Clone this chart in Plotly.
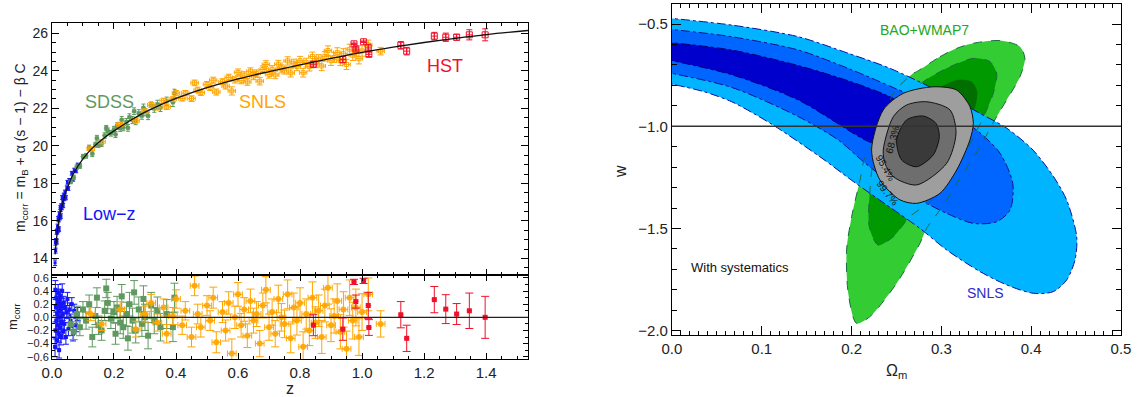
import plotly.graph_objects as go

# ---------------- Left panel data (Hubble diagram) ----------------
lowz_z = [0.010,0.011,0.012,0.013,0.014,0.015,0.016,0.017,0.018,0.019,0.020,0.021,0.022,0.023,0.024,0.025,0.026,0.027,0.028,0.029,0.030,0.032,0.033,0.035,0.036,0.038,0.040,0.042,0.045,0.048,0.050,0.053,0.056,0.060,0.064,0.068,0.072,0.078,0.083]
lowz_m = [13.77,14.85,14.42,14.94,14.91,15.41,14.90,15.43,15.71,15.51,16.12,15.60,16.05,15.55,16.39,16.23,16.17,16.72,16.60,16.26,16.82,16.70,17.25,17.03,16.82,17.38,17.18,17.54,17.24,17.77,18.06,17.73,18.16,18.14,18.54,18.23,18.71,18.67,18.98]
lowz_res = [-0.45,0.42,-0.20,0.15,-0.05,0.30,-0.35,0.05,0.20,-0.12,0.38,-0.25,0.10,-0.50,0.25,0.00,-0.15,0.32,0.12,-0.30,0.18,-0.08,0.40,0.05,-0.22,0.22,-0.10,0.15,-0.30,0.08,0.28,-0.18,0.12,-0.05,0.20,-0.25,0.10,-0.12,0.05]
lowz_err = [0.15,0.14,0.13,0.12,0.13,0.12,0.13,0.11,0.12,0.11,0.12,0.11,0.10,0.12,0.10,0.10,0.11,0.11,0.10,0.12,0.10,0.10,0.11,0.10,0.11,0.10,0.10,0.10,0.11,0.10,0.10,0.10,0.10,0.10,0.10,0.11,0.10,0.10,0.10]

sdss_z = [0.06,0.07,0.08,0.09,0.10,0.11,0.12,0.13,0.14,0.145,0.15,0.16,0.17,0.175,0.18,0.19,0.20,0.205,0.21,0.22,0.225,0.23,0.24,0.245,0.25,0.26,0.265,0.27,0.28,0.29,0.295,0.30,0.31,0.32,0.33,0.34,0.35,0.37,0.39,0.395]
sdss_m = [18.08,18.32,18.87,18.93,19.43,19.47,19.90,19.58,20.06,20.41,20.06,20.12,20.55,20.95,20.79,20.67,20.88,20.61,21.06,20.94,21.39,20.98,21.28,20.96,21.53,21.38,21.85,21.32,21.74,21.61,22.03,21.80,21.60,22.14,21.99,22.22,22.04,22.38,22.32,22.80]
sdss_res = [-0.10,-0.22,0.05,-0.15,0.12,-0.05,0.20,-0.30,0.02,0.30,-0.12,-0.20,0.10,0.44,0.22,-0.02,0.08,-0.25,0.15,-0.08,0.32,-0.15,0.05,-0.32,0.20,-0.05,0.38,-0.20,0.12,-0.10,0.28,0.00,-0.28,0.18,-0.05,0.10,-0.15,0.05,-0.15,0.30]
sdss_err = [0.10,0.12,0.12,0.13,0.12,0.13,0.14,0.15,0.13,0.15,0.14,0.15,0.15,0.14,0.16,0.15,0.16,0.16,0.17,0.17,0.18,0.17,0.18,0.18,0.18,0.19,0.18,0.19,0.19,0.19,0.20,0.20,0.20,0.20,0.20,0.21,0.21,0.22,0.22,0.22]

snls_z = [0.125,0.16,0.22,0.27,0.30,0.32,0.34,0.36,0.37,0.39,0.40,0.42,0.43,0.45,0.46,0.47,0.48,0.50,0.51,0.52,0.53,0.55,0.56,0.57,0.58,
          0.59,0.60,0.61,0.62,0.63,0.64,0.65,0.66,0.67,0.68,0.69,0.70,0.71,0.72,0.73,0.74,0.75,0.76,0.77,0.78,0.79,0.80,0.81,0.82,0.83,
          0.84,0.85,0.86,0.87,0.88,0.89,0.90,0.91,0.92,0.93,0.94,0.95,0.96,0.97,0.98,0.99,1.00,1.02,1.06]
snls_m = [19.84,20.22,21.14,21.34,21.85,22.18,22.04,22.41,22.08,22.49,22.81,22.53,22.81,22.52,23.36,22.98,22.84,23.28,23.10,23.50,22.87,23.42,23.19,23.65,22.93,
          23.52,23.92,23.49,23.77,23.41,23.98,23.72,23.86,23.45,24.07,24.34,23.81,24.08,23.78,24.35,24.10,24.04,24.53,23.89,24.40,24.23,24.54,23.90,24.44,24.22,
          24.76,24.41,24.62,24.26,24.77,25.08,24.54,24.71,24.97,24.54,24.91,24.34,25.15,24.83,25.07,24.65,25.06,25.39,25.05]
snls_res = [0.05,-0.10,0.12,-0.18,0.05,0.22,-0.08,0.15,-0.25,0.02,0.28,-0.12,0.10,-0.30,0.48,0.05,-0.15,0.18,-0.05,0.30,-0.38,0.08,-0.20,0.22,-0.55,
            0.00,0.35,-0.12,0.12,-0.28,0.25,-0.05,0.05,-0.40,0.18,0.42,-0.15,0.08,-0.25,0.28,0.00,-0.10,0.35,-0.32,0.15,-0.05,0.22,-0.45,0.05,-0.20,
            0.30,-0.08,0.10,-0.30,0.18,0.45,-0.12,0.02,0.25,-0.22,0.12,-0.48,0.30,-0.05,0.15,-0.30,0.08,0.35,-0.10]
snls_err = [0.10,0.10,0.12,0.12,0.12,0.13,0.13,0.13,0.14,0.13,0.14,0.14,0.14,0.15,0.15,0.15,0.15,0.15,0.15,0.16,0.16,0.16,0.16,0.17,0.22,
            0.17,0.18,0.18,0.18,0.18,0.18,0.19,0.19,0.20,0.19,0.20,0.20,0.20,0.20,0.21,0.21,0.21,0.22,0.22,0.22,0.22,0.23,0.23,0.23,0.23,
            0.24,0.24,0.24,0.25,0.25,0.25,0.25,0.26,0.26,0.26,0.27,0.27,0.27,0.28,0.28,0.28,0.28,0.25,0.20]

hst_z = [0.843,0.938,0.974,0.980,1.005,1.020,1.022,1.125,1.144,1.233,1.270,1.305,1.346,1.397]
hst_m = [24.35,24.60,25.44,25.16,25.55,25.22,24.88,25.36,25.05,25.85,25.79,25.79,25.92,25.92]
hst_res = [-0.12,-0.18,0.54,0.24,0.555,0.18,-0.155,0.04,-0.32,0.27,0.125,0.05,0.10,0.00]
hst_err = [0.16,0.17,0.04,0.10,0.04,0.20,0.12,0.20,0.20,0.20,0.22,0.16,0.27,0.32]

# best-fit curve
curve_z = [0.01,0.015,0.02,0.03,0.04,0.05,0.07,0.1,0.13,0.17,0.2,0.25,0.3,0.35,0.4,0.5,0.6,0.7,0.8,0.9,1.0,1.1,1.2,1.3,1.4,1.535]
curve_m = [14.22,15.11,15.74,16.64,17.28,17.78,18.54,19.31,19.88,20.45,20.8,21.33,21.8,22.19,22.53,23.1,23.57,23.96,24.32,24.66,24.98,25.26,25.51,25.73,25.93,26.15]

resid_ref = 0.0

# ---------------- Right panel data (confidence contours) ----------------
snls99_om = [-0.01,0.0665,0.1407,0.1963,0.243,0.298,0.343,0.373,0.402,0.425,0.4395,0.4507,0.4488,0.4395,0.4246,0.4023,0.3727,0.343,0.3059,0.2762,0.2391,0.2019,0.165,0.1147,0.09,0.0665,0.035,-0.01]
snls99_w = [-0.468,-0.505,-0.562,-0.643,-0.717,-0.831,-0.937,-1.01,-1.116,-1.247,-1.361,-1.54,-1.654,-1.752,-1.809,-1.817,-1.776,-1.711,-1.605,-1.50,-1.385,-1.27,-1.15,-1.0,-0.935,-0.88,-0.83,-0.785]
snls95_om = [-0.01,0.0665,0.1407,0.1963,0.2483,0.30,0.339,0.3653,0.3795,0.3764,0.3616,0.3356,0.3059,0.2762,0.2502,0.215,0.1852,0.1407,0.0665,-0.01]
snls95_w = [-0.522,-0.562,-0.627,-0.717,-0.814,-0.915,-1.018,-1.132,-1.28,-1.41,-1.467,-1.475,-1.426,-1.36,-1.296,-1.18,-1.067,-0.953,-0.81,-0.733]
snls68_om = [-0.01,0.0665,0.1407,0.198,0.24,0.27,0.295,0.305,0.295,0.27,0.245,0.215,0.1407,0.0665,-0.01]
snls68_w = [-0.587,-0.627,-0.703,-0.78,-0.85,-0.92,-1.0,-1.08,-1.15,-1.16,-1.12,-1.067,-0.872,-0.748,-0.67]

bao99_om = [0.2725,0.2984,0.317,0.3356,0.3653,0.3875,0.393,0.3875,0.3727,0.3616,0.343,0.32,0.30,0.2836,0.2762,0.2502,0.2205,0.2056,0.1963,0.1945,0.2001,0.2094,0.215,0.228,0.2465,0.2687,0.2725]
bao99_w = [-0.733,-0.66,-0.619,-0.594,-0.581,-0.611,-0.668,-0.758,-0.872,-0.953,-1.10,-1.26,-1.40,-1.499,-1.572,-1.768,-1.931,-1.964,-1.817,-1.605,-1.442,-1.263,-1.15,-1.067,-0.839,-0.741,-0.733]
bao95_om = [0.2799,0.3096,0.3356,0.3541,0.3616,0.3578,0.3504,0.335,0.315,0.29,0.265,0.2465,0.2297,0.2197,0.2205,0.225,0.24,0.258,0.2799]
bao95_w = [-0.782,-0.709,-0.668,-0.684,-0.741,-0.839,-0.92,-1.06,-1.22,-1.36,-1.442,-1.54,-1.581,-1.491,-1.312,-1.15,-1.0,-0.87,-0.782]
bao68_om = [0.295,0.317,0.333,0.34,0.335,0.32,0.30,0.28,0.268,0.27,0.28,0.295]
bao68_w = [-0.82,-0.774,-0.78,-0.83,-0.95,-1.1,-1.2,-1.22,-1.15,-1.0,-0.88,-0.82]

comb99_om = [0.2223,0.2353,0.2576,0.291,0.317,0.3318,0.3356,0.3318,0.317,0.2984,0.2725,0.2539,0.2316,0.2223]
comb99_w = [-1.116,-0.92,-0.839,-0.807,-0.823,-0.904,-0.986,-1.067,-1.214,-1.328,-1.377,-1.36,-1.263,-1.116]
comb95_om = [0.2353,0.2465,0.2613,0.2836,0.3096,0.3163,0.3059,0.2725,0.2465,0.2372,0.2353]
comb95_w = [-1.116,-0.953,-0.896,-0.88,-0.92,-1.034,-1.181,-1.287,-1.247,-1.181,-1.116]
comb68_om = [0.2502,0.2613,0.2799,0.294,0.2977,0.291,0.2725,0.2558,0.2502]
comb68_w = [-1.067,-0.969,-0.95,-0.986,-1.051,-1.14,-1.198,-1.165,-1.067]

w_ref = -1.0

# ---------------- colours ----------------
C_LOWZ = "#1414FF"
C_SDSS = "#5F995F"
C_SNLS = "#FFA500"
C_HST = "#F0102A"

fig = go.Figure()

def err(arr, color, w=3):
    return dict(type="data", array=arr, visible=True, color=color, thickness=1, width=w)

# ---- top panel (x2, y2) ----
fig.add_trace(go.Scatter(x=lowz_z, y=lowz_m, mode="markers", xaxis="x2", yaxis="y2",
                         marker=dict(symbol="square", size=3, color=C_LOWZ),
                         error_y=err(lowz_err, C_LOWZ, 2)))
fig.add_trace(go.Scatter(x=sdss_z, y=sdss_m, mode="markers", xaxis="x2", yaxis="y2",
                         marker=dict(symbol="square", size=4, color=C_SDSS),
                         error_y=err(sdss_err, C_SDSS, 2),
                         error_x=dict(type="constant", value=0.008, color=C_SDSS, thickness=1, width=0)))
fig.add_trace(go.Scatter(x=snls_z, y=snls_m, mode="markers", xaxis="x2", yaxis="y2",
                         marker=dict(symbol="square-open", size=4, color=C_SNLS, line=dict(width=1)),
                         error_y=err(snls_err, C_SNLS, 3),
                         error_x=dict(type="constant", value=0.012, color=C_SNLS, thickness=1, width=2)))
fig.add_trace(go.Scatter(x=hst_z, y=hst_m, mode="markers", xaxis="x2", yaxis="y2",
                         marker=dict(symbol="square-cross-open", size=6, color=C_HST, line=dict(width=1)),
                         error_y=err(hst_err, C_HST, 3)))
fig.add_trace(go.Scatter(x=curve_z, y=curve_m, mode="lines", xaxis="x2", yaxis="y2",
                         line=dict(color="#111111", width=1.3, shape="spline")))

# ---- residual panel (x, y) ----
fig.add_trace(go.Scatter(x=lowz_z, y=lowz_res, mode="markers", xaxis="x", yaxis="y",
                         marker=dict(symbol="square", size=4, color=C_LOWZ),
                         error_y=err(lowz_err, C_LOWZ, 3)))
fig.add_trace(go.Scatter(x=sdss_z, y=sdss_res, mode="markers", xaxis="x", yaxis="y",
                         marker=dict(symbol="square", size=6, color=C_SDSS),
                         error_y=err(sdss_err, C_SDSS, 4),
                         error_x=dict(type="constant", value=0.008, color=C_SDSS, thickness=1, width=0)))
fig.add_trace(go.Scatter(x=snls_z, y=snls_res, mode="markers", xaxis="x", yaxis="y",
                         marker=dict(symbol="circle", size=6, color=C_SNLS, opacity=0.9),
                         error_y=err(snls_err, C_SNLS, 4),
                         error_x=dict(type="constant", value=0.014, color=C_SNLS, thickness=1, width=3)))
fig.add_trace(go.Scatter(x=hst_z, y=hst_res, mode="markers", xaxis="x", yaxis="y",
                         marker=dict(symbol="square", size=5, color=C_HST),
                         error_y=err(hst_err, C_HST, 4),
                         error_x=dict(type="constant", value=0.008, color=C_HST, thickness=1, width=0)))

# ---- right panel (x3, y3) ----
def fill(xs, ys, color, line_color=None, dash="solid", lw=0):
    return go.Scatter(x=xs, y=ys, mode="lines", fill="toself", fillcolor=color,
                      xaxis="x3", yaxis="y3", hoverinfo="skip",
                      line=dict(color=line_color or color, width=lw, dash=dash, shape="spline", smoothing=0.8))

def outline(xs, ys, color, dash, lw=1):
    return go.Scatter(x=xs, y=ys, mode="lines", xaxis="x3", yaxis="y3", hoverinfo="skip",
                      line=dict(color=color, width=lw, dash=dash, shape="spline", smoothing=0.8))

fig.add_trace(fill(bao99_om, bao99_w, "#33CC33"))
fig.add_trace(fill(bao95_om, bao95_w, "#009900"))
fig.add_trace(fill(bao68_om, bao68_w, "#006F00"))
fig.add_trace(fill(snls99_om, snls99_w, "#00B4FF", "#1010A0", "dashdot", 1))
fig.add_trace(fill(snls95_om, snls95_w, "#0066FF", "#10108A", "dashdot", 1))
fig.add_trace(fill(snls68_om, snls68_w, "#0000CC", "#000070", "dashdot", 1))
fig.add_trace(outline(bao99_om, bao99_w, "#1B6B40", "dash"))
fig.add_trace(outline(bao95_om, bao95_w, "#1B6B40", "dash"))
fig.add_trace(fill(comb99_om, comb99_w, "#9E9E9E", "#111111", "solid", 1))
fig.add_trace(fill(comb95_om, comb95_w, "#6E6E6E", "#111111", "solid", 1))
fig.add_trace(fill(comb68_om, comb68_w, "#3A3A3A", "#111111", "solid", 1))

# ---------------- reference lines ----------------
fig.add_shape(type="line", xref="x domain", x0=0, x1=1, yref="y", y0=resid_ref, y1=resid_ref,
              line=dict(color="#222222", width=1.3))
fig.add_shape(type="line", xref="x3 domain", x0=0, x1=1, yref="y3", y0=w_ref, y1=w_ref,
              line=dict(color="#333333", width=1.3))

FONT = "Liberation Sans, Arial, Helvetica, sans-serif"

def axis(size, **kw):
    d = dict(showline=True, linecolor="black", linewidth=1, mirror="ticks", ticks="inside",
             showgrid=False, zeroline=False, tickcolor="black", automargin=False,
             tickfont=dict(family=FONT, color="#222", size=size))
    d.update(kw)
    return d

def minor(dt, ln):
    return dict(dtick=dt, tick0=0, ticklen=ln, ticks="inside", tickcolor="black")

fig.update_layout(
    width=1142, height=397, margin=dict(l=0, r=0, t=0, b=0, autoexpand=False),
    plot_bgcolor="white", paper_bgcolor="white", showlegend=False,
    font=dict(family=FONT, color="#222"),
    xaxis=axis(15, domain=[0.0455, 0.4623], range=[0, 1.535], anchor="y",
               tick0=0, dtick=0.2, tickformat=".1f", ticklen=6, minor=minor(0.05, 3)),
    yaxis=axis(11, domain=[0.0957, 0.3073], range=[-0.635, 0.645], anchor="x",
               tick0=0, dtick=0.2, tickformat=".1f", ticklen=5, minor=minor(0.1, 3)),
    xaxis2=axis(15, domain=[0.0455, 0.4623], range=[0, 1.535], anchor="y2", matches="x",
                showticklabels=False, tick0=0, dtick=0.2, ticklen=6, minor=minor(0.05, 3)),
    yaxis2=axis(14, domain=[0.3073, 0.9421], range=[13.12, 26.55], anchor="x2",
                tick0=0, dtick=2, ticklen=7, minor=minor(0.5, 4)),
    xaxis3=axis(15, domain=[0.5884, 0.9816], range=[0, 0.5], anchor="y3",
                tick0=0, dtick=0.1, tickformat=".1f", ticklen=9, minor=minor(0.01, 4)),
    yaxis3=axis(15, domain=[0.1562, 0.9899], range=[-2.021, -0.402], anchor="x3",
                tick0=0, dtick=0.5, tickformat=".1f", ticklen=9, minor=minor(0.1, 5)),
)

ann = []
def A(text, x, y, xref, yref, size, color, angle=0):
    ann.append(dict(text=text, x=x, y=y, xref=xref, yref=yref, showarrow=False, textangle=angle,
                    font=dict(family=FONT, size=size, color=color), xanchor="center", yanchor="middle"))

# axis titles
A("m<sub>corr</sub> = m<sub>B</sub> + α (s − 1) − β C", 21/1142, 1-148/397, "paper", "paper", 14, "#222", -90)
A("m<sub>corr</sub>", 13/1142, 1-317/397, "paper", "paper", 13, "#222", -90)
A("z", 290/1142, 1-388/397, "paper", "paper", 16, "#222")
A("w", 620/1142, 1-172/397, "paper", "paper", 16, "#222", -90)
A("Ω<sub>m</sub>", 896/1142, 1-371/397, "paper", "paper", 16, "#222")

# survey labels
A("SDSS", 0.187, 22.32, "x2", "y2", 18, C_SDSS)
A("SNLS", 0.68, 22.32, "x2", "y2", 18, C_SNLS)
A("Low−z", 0.187, 16.37, "x2", "y2", 18, C_LOWZ)
A("HST", 1.268, 24.25, "x2", "y2", 18, C_HST)

A("BAO+WMAP7", 0.2817, -0.529, "x3", "y3", 14, "#22A822")
A("SNLS", 0.3486, -1.815, "x3", "y3", 14, "#2B2BC8")
A("With systematics", 0.0757, -1.693, "x3", "y3", 13, "#111")
A("68.3%", 0.2461, -1.067, "x3", "y3", 10, "#111", -75)
A("95.4%", 0.2372, -1.204, "x3", "y3", 10, "#111", 60)
A("99.7%", 0.2394, -1.326, "x3", "y3", 10, "#111", 52)

fig.update_layout(annotations=ann)
fig.write_html("out.html", config={"displayModeBar": False},
               post_script="document.body.style.margin='0px';document.body.style.padding='0px';")
